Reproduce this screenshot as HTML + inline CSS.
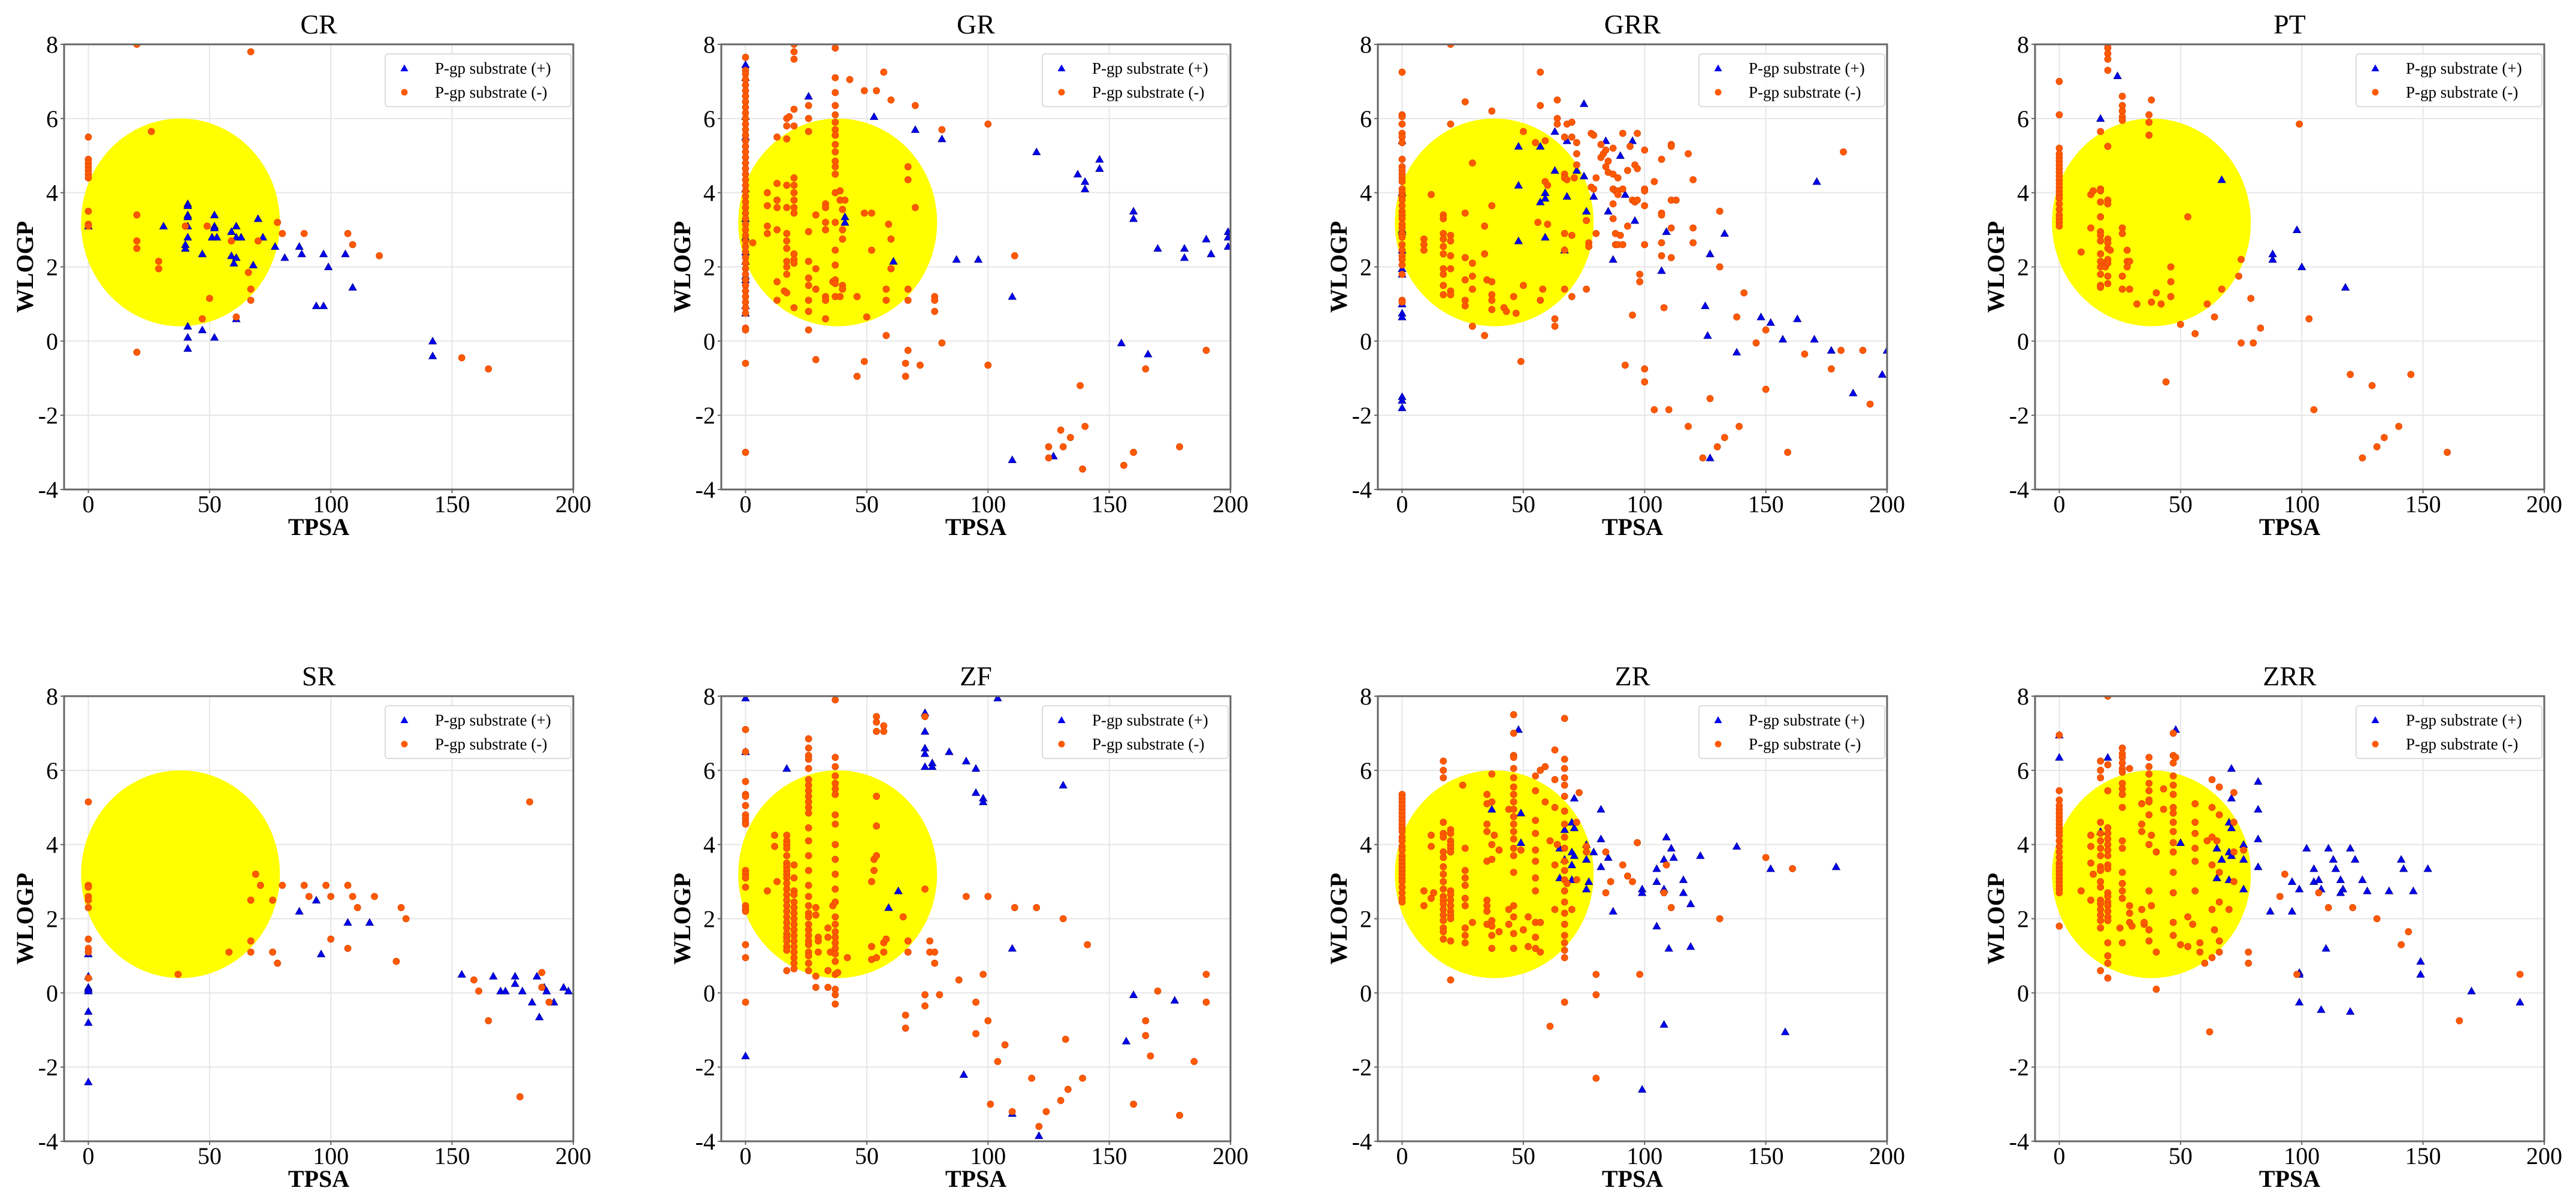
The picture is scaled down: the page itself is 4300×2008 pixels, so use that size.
<!DOCTYPE html>
<html><head><meta charset="utf-8"><title>P-gp substrate TPSA vs WLOGP</title>
<style>
html,body{margin:0;padding:0;background:#fff;}
svg{display:block;font-family:"Liberation Serif","Times New Roman",serif;}
</style></head>
<body>
<svg id="fig" width="4300" height="2008" viewBox="0 0 4300 2008" xmlns="http://www.w3.org/2000/svg"></svg>
<script>
// ---------- data ----------
const panelNames = ["CR","GR","GRR","PT","SR","ZF","ZR","ZRR"];
const xTicks = [0,50,100,150,200];
const yTicks = [-4,-2,0,2,4,6,8];
const xTickLabels = ["0","50","100","150","200"];
const yTickLabels = ["-4","-2","0","2","4","6","8"];
const legendLabels = ["P-gp substrate (+)","P-gp substrate (-)"];
const ellipseCenter = [38,3.2];
const ellipseRadius = [41,2.8];

const CR_pos = [[0,3.1],[31,3.1],[41,3.7],[41,3.65],[41,3.4],[41,3.35],[41,3.1],[41,2.8],[40,2.6],[40,2.5],[47,2.35],[52,3.4],[52,3.1],[52,3.05],[51,2.8],[53,2.8],[59,2.95],[61,3.1],[61,2.8],[63,2.8],[59,2.3],[61,2.25],[60,2.1],[68,2.05],[70,3.3],[72,2.8],[77,2.55],[81,2.25],[87,2.55],[88,2.35],[97,2.35],[99,2.0],[106,2.35],[94,0.95],[97,0.95],[109,1.45],[41,0.4],[41,0.1],[41,-0.2],[47,0.3],[52,0.1],[61,0.6],[142,0.0],[142,-0.4]];
const CR_neg = [[0,5.5],[0,4.9],[0,4.8],[0,4.7],[0,4.6],[0,4.5],[0,4.4],[0,3.5],[0,3.15],[0,3.1],[20,8],[67,7.8],[26,5.65],[20,3.4],[20,2.7],[20,2.5],[29,2.15],[29,1.95],[20,-0.3],[40,3.1],[49,3.1],[47,0.6],[50,1.15],[61,0.65],[59,2.7],[66,1.85],[67,1.4],[67,1.1],[70,2.7],[78,3.2],[80,2.9],[89,2.9],[107,2.9],[109,2.6],[120,2.3],[154,-0.45],[165,-0.75]];

const GR_pos = [[0,7.45],[0,7.1],[0,6.05],[0,5.5],[0,4.1],[0,3.3],[0,2.8],[0,2.4],[0,2.15],[0,1.75],[0,1.65],[0,0.95],[0,0.75],[26,6.6],[41,3.35],[41,3.2],[53,6.05],[61,2.15],[70,5.7],[81,5.45],[87,2.2],[96,2.2],[110,1.2],[110,-3.2],[120,5.1],[127,-3.1],[137,4.5],[140,4.3],[140,4.1],[146,4.9],[146,4.65],[155,-0.05],[160,3.5],[160,3.3],[166,-0.35],[170,2.5],[181,2.5],[181,2.25],[190,2.75],[192,2.35],[199,2.95],[199,2.8],[199,2.55]];
const GR_neg = [[0,7.65],[0,7.3],[0,7.2],[0,7.05],[0,6.9],[0,6.75],[0,6.6],[0,6.45],[0,6.3],[0,6.15],[0,6.0],[0,5.85],[0,5.7],[0,5.55],[0,5.4],[0,5.25],[0,5.1],[0,4.95],[0,4.8],[0,4.65],[0,4.5],[0,4.35],[0,4.2],[0,4.05],[0,3.9],[0,3.75],[0,3.6],[0,3.45],[0,3.3],[0,3.15],[0,3.0],[0,2.85],[0,2.7],[0,2.55],[0,2.4],[0,2.25],[0,2.1],[0,1.95],[0,1.8],[0,1.65],[0,1.5],[0,1.35],[0,1.2],[0,1.05],[0,0.9],[0,0.75],[0,0.35],[0,0.3],[0,-0.6],[0,-3.0],
[3,2.65],[9,4.0],[9,3.65],[9,3.1],[9,2.9],[13,5.5],[13,4.25],[13,3.8],[13,3.6],[13,3.0],[13,1.6],[13,1.1],[16,1.35],[17,1.3],[17,6.0],[18,6.05],[17,5.8],[17,5.45],[17,4.2],[17,3.6],[17,2.9],[17,2.7],[17,2.5],[17,2.15],[17,2.0],[17,1.8],[20,8.0],[20,7.8],[20,7.6],[20,6.25],[20,5.8],[20,4.4],[20,4.2],[20,4.0],[20,3.8],[20,3.6],[20,3.45],[20,2.35],[20,2.2],[20,2.1],[20,0.9],[26,6.35],[26,6.0],[26,5.65],[26,2.95],[26,2.15],[26,1.7],[26,1.5],[26,1.1],[26,0.8],[26,0.3],[29,1.95],[29,1.4],[29,3.4],[29,-0.5],[33,3.7],[33,3.6],[33,3.2],[33,3.0],[33,1.2],[33,1.1],[33,0.6],[36,1.6],[37,7.9],[37,7.1],[37,6.7],[37,6.35],[37,6.1],[37,5.9],[37,5.7],[37,5.55],[37,5.3],[37,5.1],[37,4.85],[37,4.7],[37,4.5],[37,4.0],[37,3.2],[37,2.45],[37,2.05],[37,1.65],[37,1.55],[37,1.2],[39,4.05],[39,3.8],[40,3.55],[40,3.0],[40,2.75],[40,1.5],[40,1.4],[39,1.2],[41,3.8],[43,7.05],[46,1.2],[46,-0.95],[49,6.75],[49,3.45],[50,0.65],[49,-0.55],[52,3.45],[52,2.45],[54,6.75],[57,7.25],[58,1.4],[58,1.1],[58,0.15],[59,3.15],[60,6.5],[60,2.75],[60,1.95],[66,-0.6],[66,-0.95],[67,4.7],[67,4.35],[67,1.4],[67,1.1],[67,-0.25],[70,6.35],[70,3.6],[72,-0.65],[78,1.2],[78,1.1],[78,0.8],[81,5.7],[81,-0.05],[100,5.85],[100,-0.65],[111,2.3],[125,-2.85],[125,-3.15],[130,-2.4],[131,-2.85],[134,-2.6],[138,-1.2],[139,-3.45],[140,-2.3],[156,-3.35],[160,-3.0],[165,-0.75],[179,-2.85],[190,-0.25]];

const GRR_pos = [[0,5.4],[0,4.0],[0,3.0],[0,2.95],[0,2.45],[0,1.95],[0,1.8],[0,1.0],[0,0.75],[0,0.65],[0,-1.5],[0,-1.6],[0,-1.8],[48,5.25],[48,4.2],[48,2.7],[57,5.25],[57,3.75],[59,4.0],[59,3.85],[59,2.8],[63,5.65],[63,4.6],[67,2.45],[68,5.4],[68,3.9],[72,4.6],[75,6.4],[75,4.45],[76,3.5],[79,3.9],[84,5.4],[85,3.5],[87,2.2],[90,5.0],[92,3.95],[95,5.4],[96,3.25],[107,1.9],[109,2.95],[125,0.95],[126,0.15],[127,2.35],[127,-3.15],[133,2.9],[138,-0.3],[148,0.65],[152,0.5],[157,0.05],[163,0.6],[170,0.05],[171,4.3],[177,-0.25],[186,-1.4],[198,-0.9],[200,-0.25]];
const GRR_neg = [[0,7.25],[0,6.1],[0,6.05],[0,5.85],[0,5.6],[0,5.5],[0,5.35],[0,4.9],[0,4.7],[0,4.6],[0,4.5],[0,4.4],[0,4.3],[0,4.1],[0,4.0],[0,3.9],[0,3.8],[0,3.65],[0,3.5],[0,3.4],[0,3.3],[0,3.15],[0,3.05],[0,2.9],[0,2.8],[0,2.6],[0,2.45],[0,2.3],[0,2.2],[0,2.05],[0,1.8],[0,1.1],[0,1.05],
[20,8],[20,5.85],[26,6.45],[37,6.2],[29,4.8],[12,3.95],[9,2.75],[9,2.6],[9,2.45],[17,3.4],[17,3.3],[17,2.9],[17,2.75],[17,2.55],[17,2.35],[17,1.95],[17,1.8],[17,1.5],[17,1.25],[20,2.85],[20,2.7],[20,2.3],[20,1.95],[20,1.35],[20,1.25],[26,3.45],[26,2.25],[26,1.65],[26,1.1],[26,0.95],[29,2.1],[29,1.75],[29,1.4],[29,0.4],[34,3.1],[34,2.35],[35,1.65],[37,1.6],[37,1.25],[37,1.1],[37,0.85],[37,3.65],[34,0.15],[42,0.9],[43,0.8],[46,1.2],[47,0.75],[49,-0.55],[50,5.65],[50,1.5],[55,5.35],[56,3.2],[57,7.25],[57,6.35],[58,1.4],[57,1.1],[59,5.4],[59,4.3],[60,4.2],[60,3.15],[63,0.6],[63,0.4],[64,6.5],[64,6.0],[64,5.85],[67,5.5],[67,4.5],[67,4.4],[68,4.35],[67,2.9],[67,2.45],[67,1.4],[68,5.85],[70,5.9],[70,5.5],[70,2.85],[70,1.2],[72,5.35],[72,5.05],[72,4.75],[71,4.4],[76,3.25],[76,1.4],[78,5.6],[78,4.15],[77,2.65],[77,2.55],[79,5.55],[79,4.1],[80,4.4],[80,2.9],[82,5.3],[82,4.95],[83,5.05],[84,5.15],[84,4.7],[85,4.85],[85,4.55],[87,5.2],[87,4.5],[87,4.1],[87,3.7],[87,3.3],[88,4.05],[88,2.9],[88,2.6],[89,4.4],[89,4.05],[89,3.95],[89,2.6],[90,2.85],[91,5.6],[91,4.1],[91,2.6],[92,-0.65],[93,3.1],[93,4.6],[94,5.25],[95,3.8],[95,0.7],[96,4.75],[96,3.75],[97,5.6],[97,4.65],[97,3.8],[98,1.8],[98,1.6],[100,5.15],[100,4.1],[100,4.05],[100,3.65],[100,2.6],[100,-0.75],[100,-1.1],[104,4.3],[104,-1.85],[107,2.65],[107,3.45],[107,3.4],[107,2.3],[107,4.9],[108,0.9],[110,-1.85],[111,5.3],[111,5.25],[111,3.8],[111,3.05],[111,2.25],[113,3.8],[118,5.05],[118,-2.3],[120,4.35],[120,3.05],[120,2.65],[124,-3.15],[127,-1.55],[130,-2.85],[131,3.5],[131,2.0],[133,-2.6],[138,0.65],[139,-2.3],[141,1.3],[146,-0.05],[150,0.3],[150,-1.3],[159,-3.0],[166,-0.35],[177,-0.75],[181,-0.25],[182,5.1],[190,-0.25],[193,-1.7]];

const PT_pos = [[17,6.0],[24,7.15],[67,4.35],[88,2.35],[88,2.2],[98,3.0],[100,2.0],[118,1.45]];
const PT_neg = [[0,7.0],[0,6.1],[0,5.2],[0,5.05],[0,4.95],[0,4.85],[0,4.75],[0,4.65],[0,4.55],[0,4.45],[0,4.35],[0,4.25],[0,4.15],[0,4.05],[0,3.95],[0,3.85],[0,3.7],[0,3.55],[0,3.4],[0,3.3],[0,3.2],[0,3.1],
[9,2.4],[13,3.95],[14,4.05],[13,3.05],[17,5.65],[17,4.1],[17,4.05],[17,3.75],[17,3.35],[17,2.95],[17,2.85],[17,2.7],[17,2.35],[17,2.15],[17,2.0],[17,1.8],[17,1.5],[17,1.45],[19,2.1],[19,2.0],[20,8.0],[20,7.9],[20,7.75],[20,7.6],[20,7.3],[20,5.25],[20,3.8],[20,3.7],[20,2.75],[20,2.65],[20,2.5],[20,2.2],[20,2.1],[20,1.75],[20,1.55],[21,2.45],[26,6.6],[26,6.35],[26,6.2],[26,6.05],[26,5.95],[26,3.05],[26,2.9],[26,1.75],[26,1.4],[28,2.45],[28,2.15],[28,2.0],[29,2.15],[29,1.4],[32,1.0],[37,6.1],[37,5.9],[37,5.55],[38,6.5],[38,1.05],[40,1.3],[42,1.0],[44,-1.1],[46,2.0],[46,1.6],[46,1.2],[50,0.45],[53,3.35],[56,0.2],[61,1.0],[64,0.65],[67,1.4],[74,1.75],[75,2.2],[75,-0.05],[79,1.15],[80,-0.05],[83,0.35],[99,5.85],[103,0.6],[105,-1.85],[120,-0.9],[125,-3.15],[129,-1.2],[131,-2.85],[134,-2.6],[140,-2.3],[145,-0.9],[160,-3.0]];

const SR_pos = [[0,1.05],[0,0.45],[0,0.15],[0,0.1],[0,0.05],[0,-0.5],[0,-0.8],[0,-2.4],[87,2.2],[94,2.5],[96,1.05],[107,1.9],[116,1.9],[154,0.5],[167,0.45],[170,0.05],[172,0.05],[176,0.45],[176,0.25],[179,0.05],[183,-0.25],[185,0.45],[186,-0.65],[188,0.15],[189,0.05],[192,-0.25],[196,0.15],[198,0.05]];
const SR_neg = [[0,5.15],[0,2.9],[0,2.85],[0,2.6],[0,2.5],[0,2.3],[0,1.45],[0,1.2],[0,1.1],[0,0.4],[37,0.5],[58,1.1],[67,2.5],[67,1.4],[67,1.1],[69,3.2],[71,2.9],[76,2.5],[76,1.1],[78,0.8],[80,2.9],[89,2.9],[91,2.6],[98,2.9],[100,2.6],[100,1.45],[107,2.9],[107,1.2],[109,2.6],[111,2.3],[118,2.6],[127,0.85],[129,2.3],[131,2.0],[159,0.35],[161,0.05],[165,-0.75],[178,-2.8],[182,5.15],[187,0.55],[187,0.15],[190,-0.25]];

const ZF_pos = [[0,7.95],[0,6.5],[0,-1.7],[17,6.05],[59,2.3],[63,2.75],[74,7.55],[74,7.05],[74,6.6],[74,6.45],[74,6.1],[77,6.2],[77,6.1],[84,6.5],[91,6.25],[95,6.05],[95,5.4],[98,5.25],[98,5.15],[104,7.95],[110,1.2],[110,-3.25],[121,-3.85],[90,-2.2],[131,5.6],[157,-1.3],[160,-0.05],[177,-0.2]];
const ZF_neg = [[0,7.1],[0,6.5],[0,5.7],[0,5.35],[0,5.3],[0,5.05],[0,4.8],[0,4.7],[0,4.6],[0,4.55],[0,3.3],[0,3.2],[0,3.1],[0,2.85],[0,2.35],[0,2.25],[0,2.2],[0,1.3],[0,0.95],[0,-0.25],
[17,4.25],[17,4.1],[17,4.0],[17,3.9],[17,3.7],[17,3.5],[17,3.4],[17,3.3],[17,3.2],[17,3.1],[17,2.95],[17,2.8],[17,2.65],[17,2.5],[17,2.35],[17,2.2],[17,2.05],[17,1.9],[17,1.75],[17,1.6],[17,1.5],[17,1.4],[17,1.25],[17,1.15],[17,0.6],
[12,4.25],[12,3.95],[13,3.0],[9,2.75],
[20,3.45],[20,3.1],[20,2.75],[20,2.65],[20,2.45],[20,2.3],[20,2.15],[20,2.0],[20,1.85],[20,1.7],[20,1.55],[20,1.4],[20,1.25],[20,1.1],[20,0.95],[20,0.8],[20,0.65],
[26,6.85],[26,6.6],[26,6.4],[26,6.3],[26,6.05],[26,5.75],[26,5.6],[26,5.45],[26,5.3],[26,5.15],[26,5.0],[26,4.85],[26,4.45],[26,4.1],[26,3.7],[26,3.3],[26,2.9],[26,2.6],[26,2.35],[26,2.15],[26,2.05],[26,1.85],[26,1.7],[26,1.55],[26,1.4],[26,1.3],[26,1.1],[26,1.0],[26,0.8],[26,0.6],
[29,2.3],[29,2.1],[29,0.45],[29,0.15],[30,1.5],[30,1.4],[30,1.1],[34,1.75],[34,1.5],[34,0.6],[34,0.15],[35,1.1],[36,2.35],
[37,7.9],[37,6.35],[37,6.1],[37,5.85],[37,5.65],[37,5.5],[37,5.35],[37,4.8],[37,4.55],[37,4.0],[37,3.6],[37,3.2],[37,2.8],[37,2.45],[37,2.05],[37,1.85],[37,1.65],[37,1.5],[37,1.35],[37,1.2],[37,1.05],[37,0.85],[37,0.5],[37,0.1],[37,-0.05],[37,-0.3],
[38,0.55],[42,0.95],[52,3.0],[52,1.25],[52,0.9],[53,3.6],[53,3.3],[54,7.45],[54,7.3],[54,7.05],[54,5.3],[54,4.5],[54,3.7],[54,0.95],[57,7.2],[57,7.05],[57,1.1],[57,1.35],[58,1.45],[65,2.05],[66,-0.6],[66,-0.95],[67,1.4],[67,1.1],[74,7.45],[74,2.8],[74,-0.05],[74,-0.35],[76,1.4],[76,1.1],[78,1.1],[78,0.8],[80,-0.05],[88,0.35],[91,2.6],[95,-0.25],[95,-1.1],[98,0.5],[100,2.6],[100,-0.75],[101,-3.0],[104,-1.85],[107,-1.4],[110,-3.2],[111,2.3],[118,-2.3],[120,2.3],[121,-3.6],[124,-3.2],[130,-2.9],[131,2.0],[132,-1.25],[133,-2.6],[139,-2.3],[141,1.3],[160,-3.0],[165,-1.15],[165,-0.75],[167,-1.7],[170,0.05],[179,-3.3],[185,-1.85],[190,0.5],[190,-0.25]];

const ZR_pos = [[37,4.95],[48,7.1],[49,4.85],[49,4.05],[65,3.9],[65,3.1],[67,4.4],[67,3.6],[71,5.25],[70,4.6],[71,4.45],[70,3.8],[71,3.7],[70,3.45],[70,3.05],[76,4.0],[76,3.6],[76,2.8],[77,3.0],[79,3.8],[82,4.95],[82,4.15],[82,3.4],[85,3.65],[87,2.2],[99,2.8],[99,2.7],[99,-2.6],[105,3.35],[105,3.0],[105,1.8],[108,3.6],[108,2.8],[108,-0.85],[109,4.2],[110,1.2],[111,3.9],[112,3.65],[116,3.05],[116,2.7],[119,2.4],[119,1.25],[123,3.7],[138,3.95],[152,3.35],[158,-1.05],[179,3.4]];
const ZR_neg = [[0,5.35],[0,5.25],[0,5.15],[0,5.05],[0,4.95],[0,4.85],[0,4.75],[0,4.65],[0,4.55],[0,4.45],[0,4.35],[0,4.2],[0,4.1],[0,3.95],[0,3.85],[0,3.7],[0,3.6],[0,3.5],[0,3.4],[0,3.3],[0,3.2],[0,3.1],[0,3.0],[0,2.85],[0,2.7],[0,2.55],[0,2.45],
[9,2.75],[9,2.35],[12,4.25],[12,3.95],[12,2.55],[13,2.7],
[17,6.25],[17,6.0],[17,5.8],[17,4.6],[17,4.3],[17,4.2],[17,3.8],[17,3.65],[17,3.4],[17,3.2],[17,3.0],[17,2.8],[17,2.6],[17,2.5],[17,2.4],[17,2.25],[17,2.1],[17,1.95],[17,1.75],[17,1.65],[17,1.45],
[20,4.4],[20,4.3],[20,4.1],[20,4.0],[20,3.9],[20,3.8],[20,2.75],[20,2.65],[20,2.5],[20,2.35],[20,2.2],[20,2.1],[20,2.0],[20,1.4],[20,0.35],
[25,5.6],[26,3.9],[26,3.3],[26,3.1],[26,2.9],[26,2.55],[26,2.35],[26,1.75],[26,1.55],[26,1.35],[29,1.9],[35,5.35],[35,5.1],[35,4.55],[35,4.35],[35,3.55],[35,2.5],[35,2.35],[35,2.2],[35,1.85],[37,5.9],[37,5.15],[37,4.0],[37,3.6],[37,1.95],[37,1.8],[37,1.55],[37,1.2],[38,4.25],[40,3.85],[40,1.65],[44,4.95],[44,2.25],[44,1.85],
[46,7.5],[46,7.0],[46,6.4],[46,6.35],[46,6.05],[46,5.8],[46,5.55],[46,5.35],[46,5.15],[46,4.95],[46,4.75],[46,4.55],[46,4.35],[46,4.15],[46,3.9],[46,3.7],[46,3.25],[46,2.35],[46,2.05],[46,1.6],[46,1.2],
[49,3.85],[50,1.7],[52,2.05],[52,1.25],[55,5.85],[55,5.45],[55,4.65],[55,4.3],[55,3.85],[55,3.55],[55,3.1],[55,2.75],[55,1.9],[55,1.5],[55,1.2],[57,6.0],[57,1.9],[57,1.1],[59,6.1],[59,5.15],[61,4.1],[61,-0.9],[63,6.55],[63,5.75],[63,5.0],[63,3.45],[63,2.25],[64,4.0],
[67,7.4],[67,6.3],[67,6.05],[67,5.8],[67,5.6],[67,5.3],[67,4.9],[67,4.55],[67,4.2],[67,3.9],[67,3.55],[67,3.3],[67,3.05],[67,2.75],[67,2.45],[67,2.15],[67,1.85],[67,1.55],[67,1.35],[67,1.15],[67,0.95],[67,-0.25],
[68,2.95],[70,2.25],[72,4.6],[72,3.05],[73,5.4],[76,3.95],[76,3.8],[80,0.5],[80,-0.05],[80,-2.3],[84,3.8],[84,2.7],[86,3.0],[91,3.45],[93,3.15],[95,3.0],[97,4.05],[98,0.5],[108,2.7],[109,3.45],[111,2.3],[131,2.0],[150,3.65],[161,3.35]];

const ZRR_pos = [[0,6.95],[0,6.35],[17,4.35],[20,6.35],[48,7.1],[50,4.05],[65,3.9],[65,3.1],[67,3.6],[70,4.6],[71,4.45],[70,3.8],[71,3.7],[70,3.05],[71,6.05],[71,5.25],[76,4.0],[76,3.6],[76,2.8],[82,5.7],[82,4.95],[82,4.15],[82,3.4],[87,2.2],[96,3.0],[96,2.2],[99,2.8],[99,0.55],[99,0.5],[99,-0.25],[102,3.9],[105,3.35],[105,3.0],[107,3.05],[108,2.8],[108,-0.45],[110,1.2],[111,3.9],[113,3.6],[114,3.35],[116,3.05],[116,2.7],[117,2.8],[120,-0.5],[120,3.9],[122,3.6],[125,3.05],[127,2.75],[136,2.75],[141,3.6],[142,3.35],[146,2.75],[149,0.85],[149,0.5],[152,3.35],[170,0.05],[190,-0.25]];
const ZRR_neg = [[0,6.95],[0,5.45],[0,5.2],[0,5.05],[0,4.95],[0,4.85],[0,4.75],[0,4.65],[0,4.55],[0,4.45],[0,4.35],[0,4.25],[0,4.1],[0,3.95],[0,3.8],[0,3.65],[0,3.5],[0,3.4],[0,3.3],[0,3.2],[0,3.1],[0,3.0],[0,2.9],[0,2.8],[0,2.7],[0,1.8],
[9,2.75],[13,4.25],[13,3.95],[13,3.5],[13,2.5],[14,3.2],
[17,6.25],[17,6.0],[17,5.8],[17,4.6],[17,4.3],[17,4.1],[17,3.9],[17,3.7],[17,3.4],[17,3.3],[17,3.0],[17,2.85],[17,2.5],[17,2.4],[17,2.25],[17,2.1],[17,1.95],[17,1.75],[17,0.6],
[20,6.15],[20,5.45],[20,4.45],[20,4.3],[20,4.15],[20,4.0],[20,3.85],[20,3.7],[20,3.45],[20,3.35],[20,2.7],[20,2.6],[20,2.45],[20,2.35],[20,2.2],[20,2.05],[20,1.95],[20,1.35],[20,1.0],[20,0.8],[20,0.4],
[26,6.6],[26,6.45],[26,6.35],[26,6.2],[26,6.05],[26,5.95],[26,5.65],[26,5.5],[26,5.35],[26,5.0],[26,4.1],[26,3.9],[26,3.25],[26,2.95],[26,2.75],[26,2.55],[26,1.35],
[25,1.75],[29,6.05],[29,2.35],[29,2.15],[29,1.9],[30,1.8],[34,4.55],[34,4.35],[34,5.1],[34,2.25],[35,1.85],[35,1.9],
[37,6.35],[37,6.1],[37,5.9],[37,5.65],[37,5.45],[37,5.2],[37,5.15],[37,4.8],[37,4.0],[37,2.75],[37,1.7],[37,1.4],
[38,4.25],[38,2.35],[40,3.8],[40,1.1],[40,0.1],[43,5.5],[43,4.95],
[47,7.0],[47,6.4],[47,6.2],[47,5.85],[47,5.6],[47,5.35],[47,5.0],[47,4.85],[47,4.6],[47,4.35],[47,4.05],[47,3.8],[47,3.25],[47,2.7],[47,1.9],[47,1.55],
[48,6.35],[50,1.3],[53,2.05],[53,1.25],[55,1.85],[56,5.1],[56,4.6],[56,4.3],[56,3.9],[56,3.55],[56,2.75],[58,1.35],[58,1.1],[60,0.8],[61,4.1],[62,-1.05],[63,5.75],[63,5.0],[63,4.2],[63,3.45],[63,2.25],[63,0.95],[64,1.7],[65,4.1],[66,5.55],[66,4.8],[66,3.25],[66,2.45],[66,1.4],[66,1.1],[70,2.25],[72,4.6],[72,3.0],[72,5.4],[72,3.8],[76,3.85],[78,1.1],[78,0.8],[91,2.6],[93,3.2],[98,0.5],[107,2.7],[111,2.3],[121,2.3],[131,2.0],[141,1.3],[144,1.65],[165,-0.75],[190,0.5],[20,8.0]];

const positives = [CR_pos,GR_pos,GRR_pos,PT_pos,SR_pos,ZF_pos,ZR_pos,ZRR_pos];
const negatives = [CR_neg,GR_neg,GRR_neg,PT_neg,SR_neg,ZF_neg,ZR_neg,ZRR_neg];

// ---------- layout ----------
const NS = "http://www.w3.org/2000/svg";
const svg = document.getElementById("fig");
const lefts = [107,1204,2300,3397];
const tops = [74,1162];
const W = 850, H = 743;
const XMIN = -10, XMAX = 200, YMIN = -4, YMAX = 8;

function mk(tag, attrs, parent){
  const e = document.createElementNS(NS, tag);
  for (const k in attrs) e.setAttribute(k, attrs[k]);
  if (parent) parent.appendChild(e);
  return e;
}

panelNames.forEach((name, i) => {
  const L = lefts[i % 4], T = tops[Math.floor(i / 4)];
  const sx = v => L + (v - XMIN) / (XMAX - XMIN) * W;
  const sy = v => T + (YMAX - v) / (YMAX - YMIN) * H;

  const g = mk("g", {}, svg);
  
  

  const clip = mk("clipPath", {id: "clip" + i}, svg);
  mk("rect", {x: L, y: T, width: W, height: H}, clip);

  // title
  const title = mk("text", {x: L + W / 2, y: T - 18, "text-anchor": "middle", "font-size": 46}, g);
  title.textContent = name;
  
  

  // grid
  const grid = mk("g", {stroke: "#e6e6e6", "stroke-width": 2}, g);
  
  
  xTicks.forEach(t => mk("line", {x1: sx(t), x2: sx(t), y1: T, y2: T + H}, grid));
  yTicks.forEach(t => mk("line", {x1: L, x2: L + W, y1: sy(t), y2: sy(t)}, grid));

  // ellipse region
  const ell = mk("ellipse", {
    cx: sx(ellipseCenter[0]), cy: sy(ellipseCenter[1]),
    rx: ellipseRadius[0] / (XMAX - XMIN) * W, ry: ellipseRadius[1] / (YMAX - YMIN) * H,
    fill: "#ffff00"
  }, g);
  
  

  // points
  const pts = mk("g", {"clip-path": "url(#clip" + i + ")"}, g);
  
  
  positives[i].forEach(p => {
    const x = sx(p[0]), y = sy(p[1]);
    const tri = mk("polygon", {points: `${x},${y-6.5} ${x-6.5},${y+5} ${x+6.5},${y+5}`, fill: "#0000f0", stroke: "#00008a", "stroke-width": 0.8}, pts);
    
    
  });
  negatives[i].forEach(p => {
    const c = mk("circle", {cx: sx(p[0]), cy: sy(p[1]), r: 5.5, fill: "#ff5a00", stroke: "#e04400", "stroke-width": 0.8}, pts);
    
    
  });

  // frame
  const frame = mk("rect", {x: L, y: T, width: W, height: H, fill: "none", stroke: "#666", "stroke-width": 3}, g);
  
  

  // ticks
  xTicks.forEach((t, k) => {
    mk("line", {x1: sx(t), x2: sx(t), y1: T + H, y2: T + H + 6, stroke: "#666", "stroke-width": 2}, g);
    const tx = mk("text", {x: sx(t), y: T + H + 38, "text-anchor": "middle", "font-size": 40}, g);
    tx.textContent = xTickLabels[k];
    
    
  });
  yTicks.forEach((t, k) => {
    mk("line", {x1: L - 6, x2: L, y1: sy(t), y2: sy(t), stroke: "#666", "stroke-width": 2}, g);
    const ty = mk("text", {x: L - 10, y: sy(t) + 14, "text-anchor": "end", "font-size": 40}, g);
    ty.textContent = yTickLabels[k];
    
    
  });

  // axis titles
  const xl = mk("text", {x: L + W / 2, y: T + H + 76, "text-anchor": "middle", "font-size": 40, "font-weight": "bold"}, g);
  xl.textContent = "TPSA";
  
  
  const yl = mk("text", {x: 0, y: 0, "text-anchor": "middle", "font-size": 40, "font-weight": "bold", transform: `translate(${L - 52},${T + H / 2}) rotate(-90)`}, g);
  yl.textContent = "WLOGP";
  
  

  // legend
  const lg = mk("g", {}, g);
  
  
  const lx = L + 536, ly = T + 16;
  mk("rect", {x: lx, y: ly, width: 310, height: 88, rx: 5, fill: "#fff", "fill-opacity": 0.85, stroke: "#dcdcdc", "stroke-width": 2}, lg);
  const mx = lx + 32;
  const y1 = ly + 24, y2 = ly + 64;
  const lt = mk("polygon", {points: `${mx},${y1-6.5} ${mx-6.5},${y1+5} ${mx+6.5},${y1+5}`, fill: "#0000f0"}, lg);
  
  
  const lc = mk("circle", {cx: mx, cy: y2, r: 5.5, fill: "#ff5a00"}, lg);
  
  
  [y1, y2].forEach((yy, k) => {
    const t = mk("text", {x: lx + 83, y: yy + 9, "font-size": 27}, lg);
    t.textContent = legendLabels[k];
    
    
  });
});
</script>
</body></html>
